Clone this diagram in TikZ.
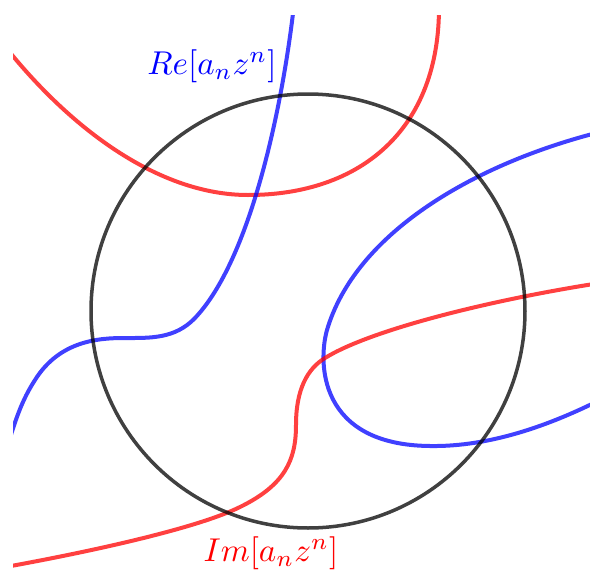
\documentclass[tikz,border=0pt]{standalone}
\usepackage{graphicx}
\begin{document}
\begin{tikzpicture}[x=1pt,y=-1pt,
  redc/.style={draw=red, line width=4pt, draw opacity=0.75},
  bluec/.style={draw=blue, line width=4pt, draw opacity=0.75},
  circ/.style={draw=black, line width=3.5pt, draw opacity=0.75},
  lbl/.style={inner sep=0pt}]
\useasboundingbox (0,0) rectangle (590,571);
\begin{scope}
\clip (13,15) rectangle (590,571);
% red upper curve
\draw[redc] (0,40) .. controls (70,130) and (160,195) .. (248,195)
  .. controls (360,195) and (440,130) .. (439,5);
% blue left curve
\draw[bluec] (294,5) .. controls (282,110) and (250,260) .. (195,318)
  .. controls (175,339) and (150,338) .. (125,338)
  .. controls (100,338) and (60,340) .. (35,380)
  .. controls (22,400) and (15,420) .. (5,455);
% blue right curve
\draw[bluec] (600,132) .. controls (470,165) and (355,235) .. (327,330)
  .. controls (318,362) and (318,445) .. (430,446)
  .. controls (490,447) and (550,425) .. (600,400);
% red lower curve
\draw[redc] (600,283) .. controls (490,300) and (370,330) .. (325,358)
  .. controls (307,369) and (296,390) .. (296,425)
  .. controls (296,460) and (285,485) .. (240,507)
  .. controls (200,527) and (100,550) .. (0,568);
\end{scope}
\node[circ, circle, minimum size=434pt, inner sep=0pt] (c) at (308,311) {};
\node[lbl, text=blue] (re) at (212,66) {\scalebox{3.3}{$Re[a_nz^n]$}};
\node[lbl, text=red] (im) at (271,553) {\scalebox{3.3}{$Im[a_nz^n]$}};
\end{tikzpicture}
\end{document}
